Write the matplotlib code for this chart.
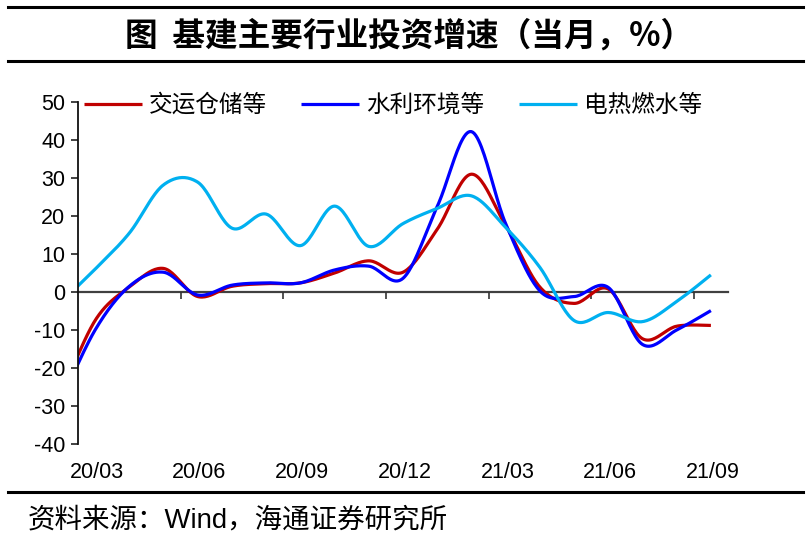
import numpy as np
import matplotlib
matplotlib.use("Agg")
import matplotlib.pyplot as plt
import matplotlib.transforms as mtransforms
from matplotlib.lines import Line2D

plt.rcParams['font.family'] = ['Liberation Sans', 'Noto Sans CJK SC', 'DejaVu Sans']
plt.rcParams['axes.unicode_minus'] = False

# monthly data, 20/02 sits just left of the plot and gets clipped
months = ['20/02', '20/03', '20/04', '20/05', '20/06', '20/07', '20/08', '20/09',
          '20/10', '20/11', '20/12', '21/01', '21/02', '21/03', '21/04', '21/05',
          '21/06', '21/07', '21/08', '21/09']
transport = [-27.2, -7.5, 1.3, 6.2, -1.2, 1.5, 2.2, 2.4, 5.0, 8.2,
             5.2, 16.5, 31.0, 17.5, 1.3, -3.0, 0.8, -12.3, -9.0, -8.8]
water_env = [-28.8, -10.0, 1.5, 5.2, -0.8, 1.8, 2.4, 2.4, 5.8, 6.8,
             3.6, 22.5, 42.2, 18.0, 0.3, -1.2, 1.2, -13.8, -10.0, -4.9]
utility = [-2.8, 6.0, 15.5, 28.2, 28.9, 16.8, 20.5, 12.2, 22.6, 12.0,
           18.0, 22.0, 25.3, 17.0, 6.5, -7.5, -5.4, -7.8, -2.5, 4.5]
names = ['交运仓储等', '水利环境等', '电热燃水等']
colors = ['#C00000', '#0000FF', '#00B0F0']

title = '图  基建主要行业投资增速（当月，%）'
source = '资料来源：Wind，海通证券研究所'


def smooth(x, y, n=24):
    # excel-like smoothed line (catmull-rom as bezier)
    x = np.asarray(x, float)
    y = np.asarray(y, float)
    xp = np.concatenate([[x[0]], x, [x[-1]]])
    yp = np.concatenate([[y[0]], y, [y[-1]]])
    t = np.linspace(0, 1, n, endpoint=False)[:, None]
    pts = []
    for i in range(1, len(xp) - 2):
        p0 = np.array([xp[i - 1], yp[i - 1]])
        p1 = np.array([xp[i], yp[i]])
        p2 = np.array([xp[i + 1], yp[i + 1]])
        p3 = np.array([xp[i + 2], yp[i + 2]])
        c1 = p1 + (p2 - p0) / 6
        c2 = p2 - (p3 - p1) / 6
        b = ((1 - t) ** 3) * p1 + 3 * ((1 - t) ** 2) * t * c1 + 3 * (1 - t) * t ** 2 * c2 + t ** 3 * p2
        pts.append(b)
    pts.append(np.array([[x[-1], y[-1]]]))
    pts = np.vstack(pts)
    return pts[:, 0], pts[:, 1]


W, H = 811, 541
fig = plt.figure(figsize=(W / 100, H / 100), dpi=100)
ax = fig.add_axes([78 / W, 1 - 444 / H, 650 / W, 342 / H])

x = np.arange(len(months)) - 1
for vals, name, c in zip([transport, water_env, utility], names, colors):
    sx, sy = smooth(x, vals)
    ax.plot(sx, sy, color=c, lw=2.3, label=name, solid_capstyle='butt')

ax.set_xlim(-0.5, len(months) - 1.5)
ax.set_ylim(-40, 50)
ax.set_yticks(np.arange(-40, 51, 10))
ax.tick_params(axis='y', direction='out', length=5, width=1.2, color='#222222',
               labelsize=15.5, pad=4)

for s in ['top', 'right']:
    ax.spines[s].set_visible(False)
ax.spines['left'].set_color('#111111')
ax.spines['left'].set_linewidth(1.3)
ax.spines['bottom'].set_position(('data', 0))
ax.spines['bottom'].set_color('#404040')
ax.spines['bottom'].set_linewidth(1.6)
ax.spines['bottom'].set_zorder(1)

ax.set_xticks(np.arange(2.5, len(months) - 1.5, 3))
ax.tick_params(axis='x', direction='out', length=5, width=1.2, color='#333333',
               labelbottom=False)

trans = mtransforms.blended_transform_factory(ax.transData, ax.transAxes)
for i in range(1, len(months), 3):
    ax.text(x[i] + 0.05, -0.082, months[i], transform=trans, ha='center', va='center',
            fontsize=15.5)

leg = ax.legend(loc='upper left', ncol=3, frameon=False, fontsize=17,
                handlelength=2.45, handletextpad=0.3, columnspacing=1.45,
                bbox_to_anchor=(-0.005, 1.05), borderaxespad=0)

# rules above/below the title and above the source
for yy in [7, 61, 492]:
    fig.add_artist(Line2D([8 / W, 803 / W], [1 - yy / H, 1 - yy / H],
                          color='black', lw=2.2))

fig.text(0.505, 1 - 36 / H, title, ha='center', va='center', fontsize=23.5,
         fontweight='bold', family=['Noto Sans CJK SC', 'DejaVu Sans'])
fig.text(28 / W, 1 - 521 / H, source, ha='left', va='center', fontsize=19.8)

fig.savefig('out.png', dpi=100)
